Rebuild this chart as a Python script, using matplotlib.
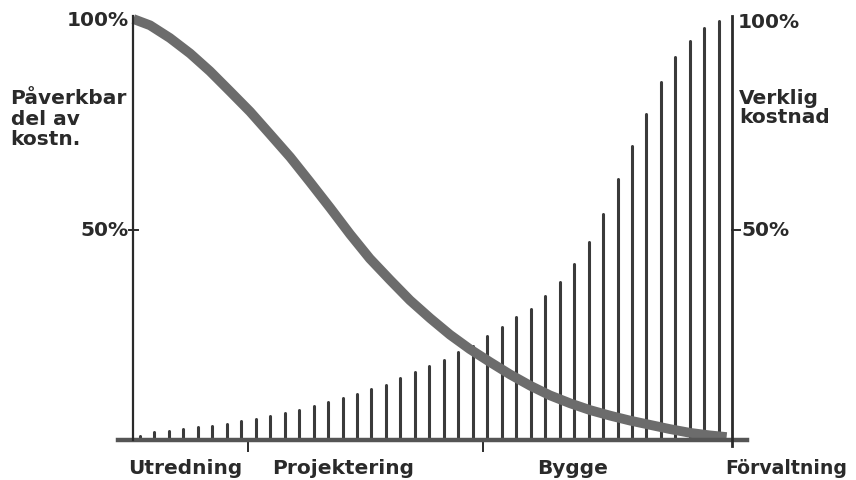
import numpy as np
import matplotlib
matplotlib.use("Agg")
import matplotlib.pyplot as plt

# actual cost (bars), percent of total, read left to right
cost_pct = [1.0, 1.9, 2.1, 2.6, 3.1, 3.3, 3.8, 4.5, 5.0, 5.7,
            6.4, 7.1, 8.1, 9.0, 10.0, 10.9, 12.1, 13.1, 14.7, 16.2,
            17.6, 19.0, 20.9, 22.3, 24.7, 26.8, 29.2, 31.1, 34.2, 37.5,
            41.8, 47.0, 53.7, 62.0, 69.8, 77.4, 85.0, 91.0, 94.8, 97.9, 99.5]

# influenceable share of cost (thick curve), x = percent of timeline
curve_x = [0, 2.8, 6.1, 9.5, 12.8, 16.1, 19.5, 22.8, 26.2, 29.5,
           32.9, 36.2, 39.5, 42.9, 46.2, 49.6, 52.9, 56.2, 59.6, 62.9,
           66.3, 69.6, 73.0, 76.3, 79.6, 83.0, 86.3, 89.6, 93.0, 96.3, 99.1]
curve_y = [100, 98.5, 95.5, 91.8, 87.6, 82.9, 78.0, 72.7, 67.2, 61.3,
           55.1, 48.9, 43.1, 38.0, 33.2, 28.9, 25.0, 21.6, 18.5, 15.6,
           12.9, 10.6, 8.7, 7.1, 5.8, 4.6, 3.6, 2.6, 1.7, 1.1, 0.7]

phases = ["Utredning", "Projektering", "Bygge", "Förvaltning"]
phase_pos = [-0.9, 23.2, 67.4, 98.9]
phase_size = [14.5, 14.5, 14.5, 13.6]
phase_bounds = [19.2, 58.4]

W, H = 856, 481
fig = plt.figure(figsize=(W / 100, H / 100), dpi=100)
ax = fig.add_axes([133.3 / W, 40 / H, 598.7 / W, 421 / H])
ax.set_xlim(0, 100)
ax.set_ylim(0, 100)
ax.axis("off")

ink = "#2a2a2a"
font = dict(family="DejaVu Sans", weight="bold", color=ink)

# bars
bar_x = np.linspace(1.1, 97.8, len(cost_pct))
for x, h in zip(bar_x, cost_pct):
    ax.plot([x, x], [0, h], color="#3a3a3a", lw=2.2, solid_capstyle="round",
            clip_on=False, zorder=2)

# curve
ax.plot(curve_x, curve_y, color="#6c6c6c", lw=7, solid_capstyle="butt",
        solid_joinstyle="round", clip_on=False, zorder=3)

# axes lines
ax.plot([-2.6, 102.5], [0, 0], color="#555555", lw=3.2, clip_on=False, zorder=4)
ax.plot([0, 0], [0, 100.7], color=ink, lw=1.6, clip_on=False, zorder=4)
ax.plot([100, 100], [-1.5, 100.7], color=ink, lw=2.0, clip_on=False, zorder=4)
ax.plot([-0.8, 0.8], [50, 50], color=ink, lw=1.4, clip_on=False)
ax.plot([100, 101.3], [50, 50], color=ink, lw=1.4, clip_on=False)
for b in phase_bounds:
    ax.plot([b, b], [0, -2.5], color=ink, lw=1.4, clip_on=False)

# tick labels
ax.text(-0.8, 100, "100%", ha="right", va="center", fontsize=14.5, **font)
ax.text(-0.8, 50, "50%", ha="right", va="center", fontsize=14.5, **font)
ax.text(101.0, 99.3, "100%", ha="left", va="center", fontsize=14.5, **font)
ax.text(101.6, 50, "50%", ha="left", va="center", fontsize=14.5, **font)

# axis titles
ax.text(-20.5, 83.5, "Påverkbar\ndel av\nkostn.", ha="left", va="top",
        linespacing=1.1, fontsize=14.5, **font)
ax.text(101.2, 83.5, "Verklig\nkostnad", ha="left", va="top",
        linespacing=1.0, fontsize=14.5, **font)

# phase labels
for name, x, fs in zip(phases, phase_pos, phase_size):
    ax.text(x, -6.5, name, ha="left", va="center", fontsize=fs, **font)

fig.savefig("out.png", dpi=100, facecolor="white")
